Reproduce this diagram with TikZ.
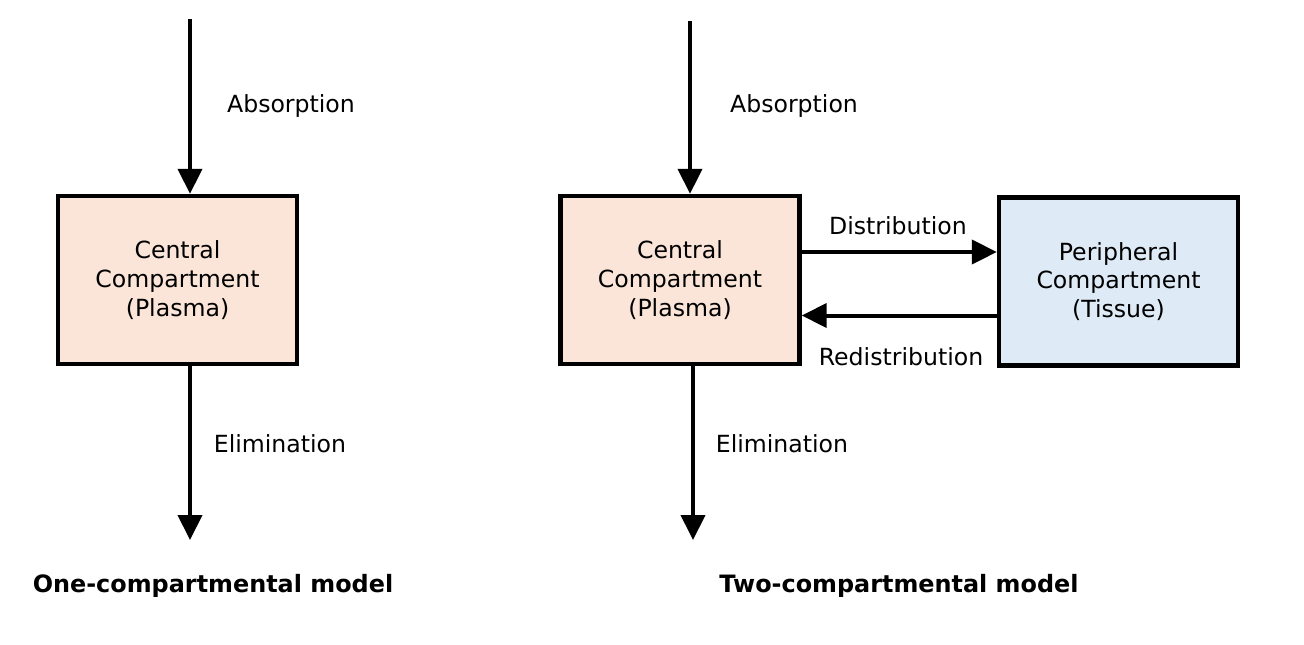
\documentclass[tikz,border=0pt]{standalone}
\usepackage{fontspec}
\setmainfont{DejaVu Sans}
\usetikzlibrary{arrows.meta, positioning}
\definecolor{myPeach}{RGB}{250, 229, 216}
\definecolor{myBlue}{RGB}{222, 234, 246}

\begin{document}
\begin{tikzpicture}[
    x=0.5pt, y=-0.5pt,
    % box styles
    compbox/.style={draw=black, line width=2.2pt, minimum width=119.5pt, minimum height=84pt,
        inner sep=0pt, align=center, font=\fontsize{11.8}{14.3}\selectfont},
    central/.style={compbox, fill=myPeach},
    peripheral/.style={compbox, fill=myBlue},
    % arrows
    flowarrow/.style={line width=2pt, -{Triangle[length=12.5pt, width=12pt]}},
    % labels
    flowlabel/.style={font=\fontsize{11.8}{14.2}\selectfont, inner sep=0pt},
    titlelabel/.style={font=\fontsize{11.95}{14.4}\selectfont\bfseries, inner sep=0pt}
]
\useasboundingbox (0,0) rectangle (1304,644);

% --- one-compartment model ---
\node[central] (central1) at (177.5,280) {Central\\Compartment\\(Plasma)};
\coordinate (absin1) at (190,19);
\coordinate (elimout1) at (190,540);
\draw[flowarrow] (absin1) -- (absin1 |- central1.north);
\draw[flowarrow] (elimout1 |- central1.south) -- (elimout1);
\node[flowlabel] (abslabel1) at (291,105.5) {Absorption};
\node[flowlabel] (elimlabel1) at (280,443.5) {Elimination};
\node[titlelabel] (title1) at (213,586) {One-compartmental model};

% --- two-compartment model ---
\node[central] (central2) at (680,280) {Central\\Compartment\\(Plasma)};
\node[peripheral] (periph) at (1118.5,281.5) {Peripheral\\Compartment\\(Tissue)};
\coordinate (absin2) at (690,21);
\coordinate (elimout2) at (693,540);
\draw[flowarrow] (absin2) -- (absin2 |- central2.north);
\draw[flowarrow] (elimout2 |- central2.south) -- (elimout2);
\draw[flowarrow] ([yshift=14pt]central2.east) -- ([yshift=14pt]central2.east -| periph.west);
\draw[flowarrow] ([yshift=-17pt]periph.west) -- ([yshift=-17pt]periph.west -| central2.east);
\node[flowlabel] (abslabel2) at (794,105.5) {Absorption};
\node[flowlabel] (elimlabel2) at (782,443.5) {Elimination};
\node[flowlabel] (distlabel) at (898,225.5) {Distribution};
\node[flowlabel] (redistlabel) at (901,356.5) {Redistribution};
\node[titlelabel] (title2) at (899,586) {Two-compartmental model};

\end{tikzpicture}
\end{document}
